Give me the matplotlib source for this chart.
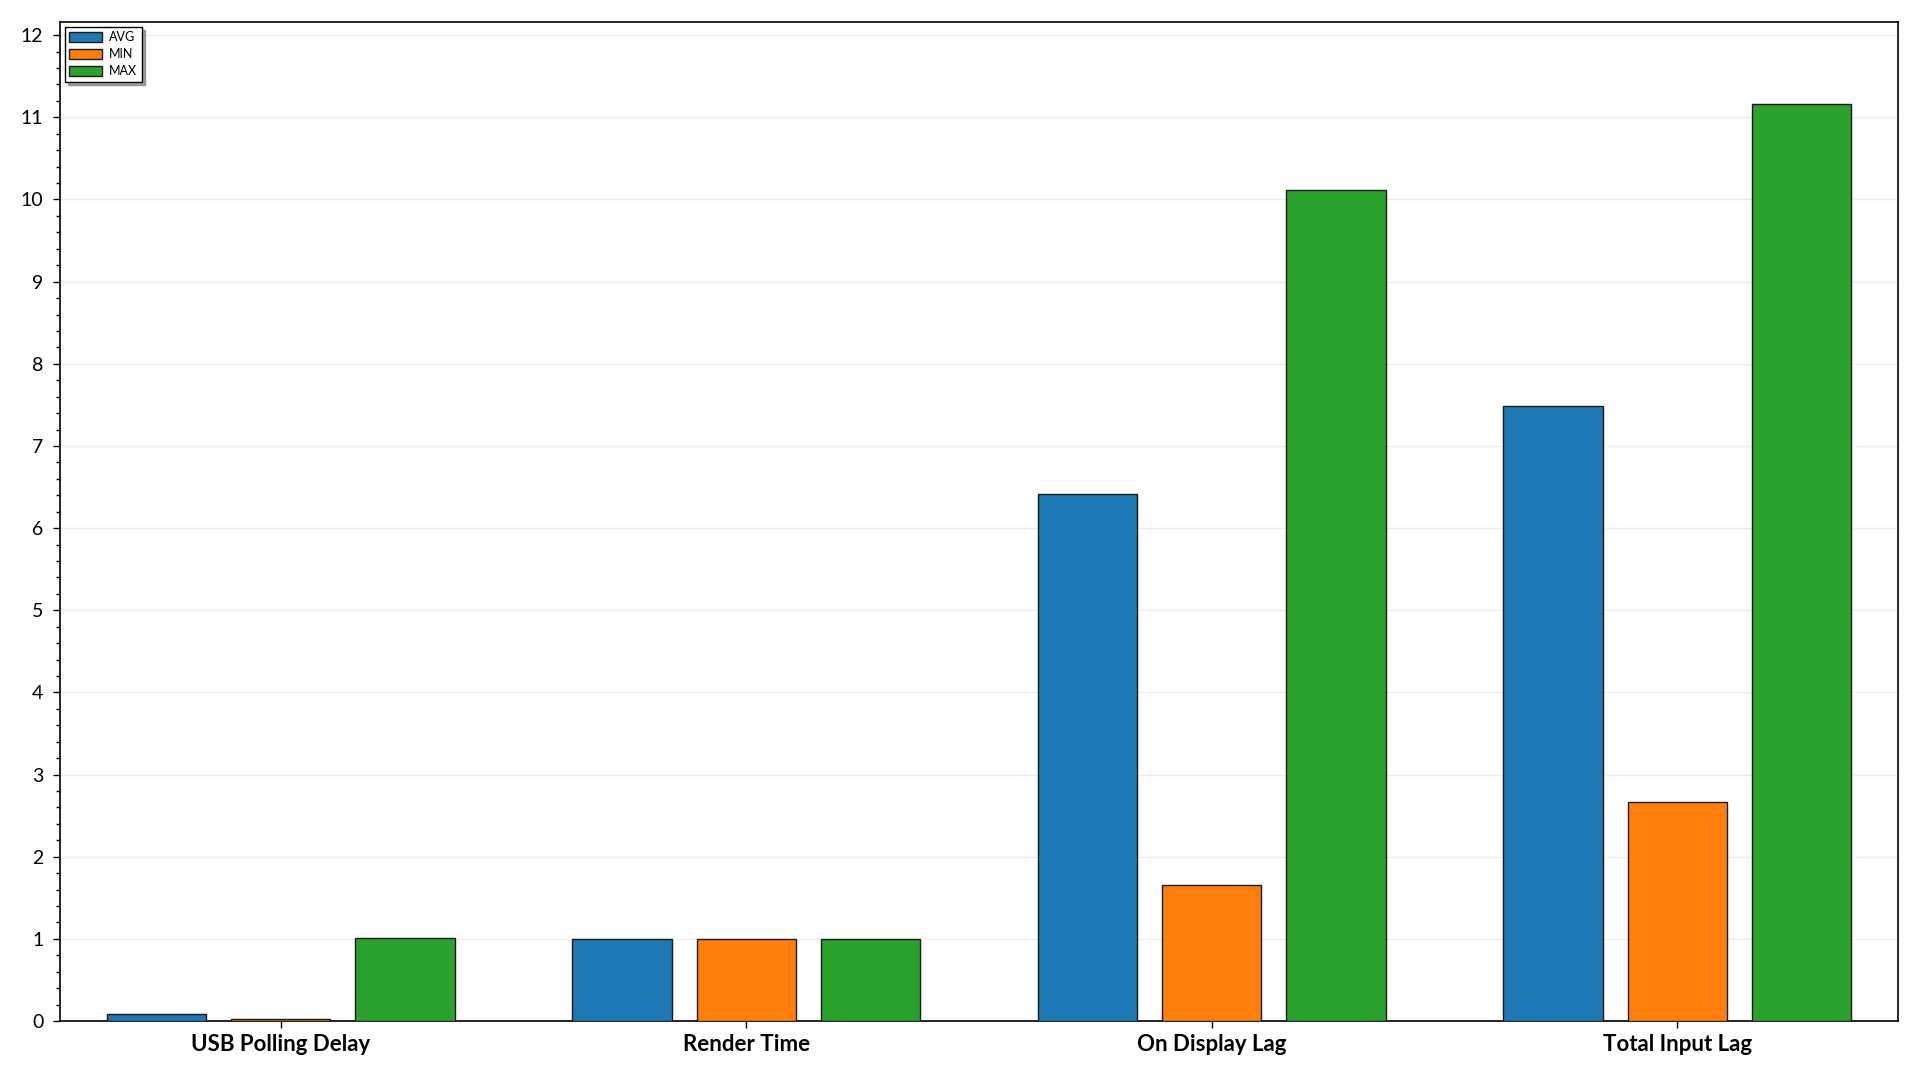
import numpy as np
import matplotlib
matplotlib.use('Agg')
import matplotlib.pyplot as plt
from matplotlib.ticker import MultipleLocator, AutoMinorLocator

plt.rcParams['font.family'] = ['Lato', 'DejaVu Sans']

categories = ['USB Polling Delay', 'Render Time', 'On Display Lag', 'Total Input Lag']
avg_values = [0.08, 1.0, 6.41, 7.49]
min_values = [0.02, 1.0, 1.65, 2.67]
max_values = [1.01, 1.0, 10.12, 11.16]
series_names = ['AVG', 'MIN', 'MAX']
colors = ['#1f77b4', '#ff7f0e', '#2ca02c']

fig = plt.figure(figsize=(19.2, 10.8), dpi=100)
ax = fig.add_axes([0.03125, 0.0546, 0.9573, 0.925])

x = np.arange(len(categories))
step = 0.267
width = 0.2135
for i, (vals, name, c) in enumerate(zip([avg_values, min_values, max_values], series_names, colors)):
    ax.bar(x + (i - 1) * step, vals, width, color=c, edgecolor='#1a1a1a',
           linewidth=1.0, label=name, zorder=3)

ax.set_xlim(-0.474, 3.474)
ax.set_ylim(0, 12.16)
ax.set_xticks(x)
ax.set_xticklabels(categories, fontsize=16, fontweight='bold')
ax.yaxis.set_major_locator(MultipleLocator(1))
ax.yaxis.set_minor_locator(AutoMinorLocator(5))
ax.tick_params(axis='y', which='major', labelsize=14, length=5, width=1, pad=7)
ax.tick_params(axis='y', which='minor', length=3, width=1)
ax.tick_params(axis='x', which='major', length=5, width=1, pad=4)
ax.grid(axis='y', which='major', color='#ececec', linewidth=1, zorder=0)
for sp in ax.spines.values():
    sp.set_linewidth(1.2)
    sp.set_color('black')

leg = ax.legend(loc='upper left', fontsize=9, fancybox=False, shadow=True,
                framealpha=1, edgecolor='black', borderaxespad=0.4,
                handlelength=2.6, handleheight=0.85, handletextpad=0.6,
                labelspacing=0.4, borderpad=0.35)
leg.get_frame().set_linewidth(1.0)

fig.savefig('out.png', dpi=100)
